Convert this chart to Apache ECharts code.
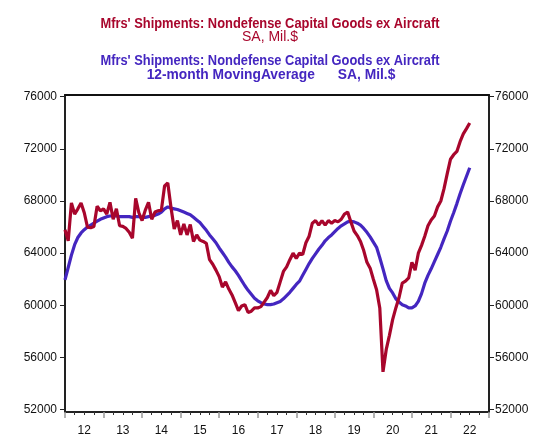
<!DOCTYPE html>
<html>
<head>
<meta charset="utf-8">
<script src="https://cdn.jsdelivr.net/npm/echarts@6/dist/echarts.min.js"></script>
<style>
html,body{margin:0;padding:0;background:#fff;}
#chart{width:536px;height:437px;}
</style>
</head>
<body>
<div id="chart"></div>
<script>
// Monthly data, Jan 2012 .. Jul 2022
const startYear = 2012;
const yearLabels = ['12','13','14','15','16','17','18','19','20','21','22'];
const yTickValues = [52000, 56000, 60000, 64000, 68000, 72000, 76000];

const shipments = [
  // 2012
  65800, 64950, 67850, 67000, 67400, 67850, 67100, 66000, 65950, 66050, 67600, 67250,
  // 2013
  67400, 67000, 67900, 66600, 67400, 66100, 66050, 65900, 65600, 65150, 68200, 67100,
  // 2014
  66500, 67300, 67900, 66600, 67150, 67250, 67300, 69150, 69380, 67500, 65850, 66500,
  // 2015
  65400, 66250, 65400, 66200, 64900, 65400, 65000, 64900, 64750, 63500, 63150, 62700,
  // 2016
  62200, 61400, 61800, 61250, 60800, 60200, 59600, 59950, 60050, 59450, 59550, 59800,
  // 2017
  59800, 59900, 60250, 60600, 61150, 60750, 61000, 61800, 62600, 62950, 63500, 64000,
  // 2018
  63600, 64000, 63900, 64800, 65300, 66300, 66500, 66150, 66500, 66150, 66500, 66300,
  // 2019
  66500, 66400, 66600, 67000, 67150, 66400, 65700, 65350, 64900, 64200, 63300, 62850,
  // 2020
  62000, 61200, 59800, 54900, 56600, 57700, 58900, 59800, 60600, 61700, 61850, 62100,
  // 2021
  63300, 62700, 64000, 64600, 65300, 66100, 66550, 66850, 67550, 68000, 68950, 70100,
  // 2022
  71200, 71550, 71800, 72550, 73150, 73550, 73980
];

const movingAverage = [
  // 2012
  61950, 62900, 63850, 64650, 65200, 65550, 65800, 66000, 66150, 66300, 66450, 66600,
  // 2013
  66700, 66800, 66850, 66850, 66850, 66800, 66800, 66800, 66800, 66750, 66800, 66800,
  // 2014
  66750, 66750, 66800, 66850, 66900, 67000, 67150, 67400, 67550, 67450, 67400, 67350,
  // 2015
  67250, 67150, 67050, 66950, 66750, 66550, 66350, 66050, 65750, 65400, 65100, 64800,
  // 2016
  64400, 64050, 63700, 63300, 62950, 62650, 62300, 61900, 61500, 61150, 60850, 60550,
  // 2017
  60350, 60200, 60100, 60050, 60050, 60100, 60200, 60300, 60500, 60750, 61000, 61300,
  // 2018
  61600, 61850, 62300, 62750, 63200, 63600, 63950, 64300, 64600, 64950, 65200, 65400,
  // 2019
  65650, 65900, 66100, 66250, 66400, 66450, 66400, 66300, 66150, 65900, 65600, 65250,
  // 2020
  64850, 64450, 63650, 62800, 61900, 61300, 60950, 60500, 60250, 60050, 59950, 59800,
  // 2021
  59800, 59950, 60300, 60900, 61700, 62300, 62800, 63350, 63900, 64450, 65100, 65700,
  // 2022
  66450, 67100, 67800, 68550, 69250, 69900, 70550
];

const RED = '#A8062C';
const BLUE = '#4426C0';

function toPairs(arr) {
  return arr.map((v, i) => [startYear + i / 12, v]);
}
const labelValues = yearLabels.map((l, i) => startYear + i + 0.5);

const chart = echarts.init(document.getElementById('chart'), null, {renderer: 'canvas'});
const yBase = {
  type: 'value',
  min: 51820,
  max: 76130,
  splitLine: {show: false},
  axisLine: {show: true, onZero: false, lineStyle: {color: '#222', width: 2}},
  axisTick: {show: true, customValues: yTickValues, length: 5, lineStyle: {color: '#222', width: 1}},
  axisLabel: {show: true, customValues: yTickValues, color: '#111', fontSize: 12,
    fontFamily: 'Liberation Sans, Arial, sans-serif',
    formatter: function (v) { return String(Math.round(v)); }}
};
const titleFont = 'bold 15px "Liberation Sans", Arial, sans-serif';
chart.setOption({
  animation: false,
  backgroundColor: '#fff',
  grid: {left: 65, right: 47, top: 95, bottom: 21, containLabel: false},
  graphic: [
    {type: 'text', x: 270, y: 23.5, scaleX: 0.858, style: {text: "Mfrs' Shipments: Nondefense Capital Goods ex Aircraft", fill: RED, font: titleFont, textAlign: 'center', textVerticalAlign: 'middle'}},
    {type: 'text', x: 270, y: 37.5, style: {text: 'SA, Mil.$', fill: RED, font: '14px "Liberation Sans", Arial, sans-serif', textAlign: 'center', textVerticalAlign: 'middle'}},
    {type: 'text', x: 270, y: 61, scaleX: 0.858, style: {text: "Mfrs' Shipments: Nondefense Capital Goods ex Aircraft", fill: BLUE, font: titleFont, textAlign: 'center', textVerticalAlign: 'middle'}},
    {type: 'text', x: 271, y: 74.5, scaleX: 0.92, style: {text: '12-month MovingAverage      SA, Mil.$', fill: BLUE, font: titleFont, textAlign: 'center', textVerticalAlign: 'middle'}}
  ],
  xAxis: [
    {
      type: 'value', min: startYear, max: startYear + yearLabels.length, interval: 1,
      position: 'bottom',
      splitLine: {show: false},
      axisLine: {show: true, onZero: false, lineStyle: {color: '#222', width: 2}},
      axisTick: {show: true, length: 6, lineStyle: {color: '#999', width: 1.5}},
      minorTick: {show: true, splitNumber: 4, length: 3, lineStyle: {color: '#333', width: 1}},
      axisLabel: {
        customValues: labelValues, margin: 13, color: '#111', fontSize: 12,
        fontFamily: 'Liberation Sans, Arial, sans-serif',
        formatter: function (v) { return yearLabels[Math.floor(v) - startYear]; }
      }
    },
    {
      type: 'value', min: startYear, max: startYear + yearLabels.length,
      position: 'top',
      splitLine: {show: false},
      axisLine: {show: true, onZero: false, lineStyle: {color: '#111', width: 2}},
      axisTick: {show: false}, axisLabel: {show: false}
    }
  ],
  yAxis: [
    Object.assign({}, yBase, {position: 'left', axisLabel: Object.assign({}, yBase.axisLabel, {margin: 8})}),
    Object.assign({}, yBase, {position: 'right', axisLabel: Object.assign({}, yBase.axisLabel, {margin: 6})})
  ],
  series: [
    {type: 'line', name: 'MA', data: toPairs(movingAverage), showSymbol: false, symbol: 'none',
     lineStyle: {color: BLUE, width: 3.2}, xAxisIndex: 0, yAxisIndex: 0, z: 2},
    {type: 'line', name: 'Shipments', data: toPairs(shipments), showSymbol: false, symbol: 'none',
     lineStyle: {color: RED, width: 3.2}, xAxisIndex: 0, yAxisIndex: 0, z: 3}
  ]
});
</script>
</body>
</html>
